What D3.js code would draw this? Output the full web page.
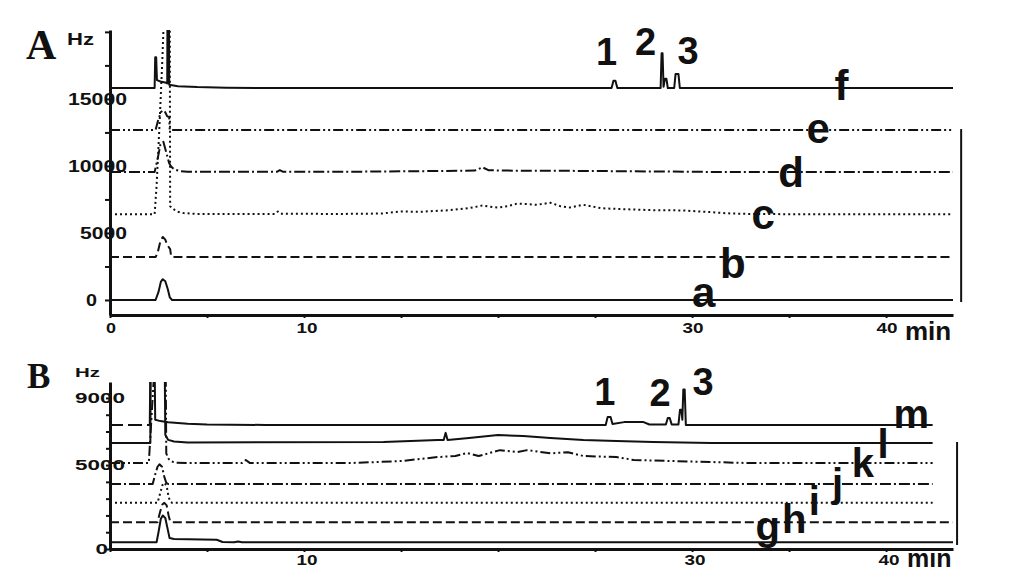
<!DOCTYPE html>
<html lang="en">
<head>
<meta charset="utf-8">
<title>Chromatograms A and B</title>
<script type="text/javascript" src="https://d3js.org/d3.v7.min.js"></script>
<style>
  body { margin: 0; background: #fff; }
  svg { display: block; }
</style>
</head>
<body>
<div id="chart"></div>
<script type="text/javascript">

// ---- panel A traces, [minutes, Hz] ----
var traceA_a = [[0,0],[2.35,0],[2.5,600],[2.62,1350],[2.72,1550],[2.85,1400],[2.98,800],[3.08,200],[3.2,0],[43.45,0]];
var traceA_b = [[0,3200],[2.35,3200],[2.45,3500],[2.6,4400],[2.72,4700],[2.85,4500],[2.95,4100],[3.1,3800],[3.15,3300],[3.25,3200],[43.45,3200]];
var traceA_c = [[0,6400],[2.3,6400],[2.4,8500],[2.55,13000],[2.7,18000],[2.8,22000],[3.08,22000],[3.1,7000],[3.25,6800],[3.45,6600],
  [3.8,6480],[4.5,6420],[8.5,6420],[8.65,6600],[8.8,6430],[12,6420],[14,6450],[15,6600],[16,6580],[17.5,6700],[18.5,6850],
  [19.2,7050],[19.6,6950],[20,6900],[20.5,7000],[21,7200],[21.5,7150],[22,7100],[22.7,7250],[23.2,7000],[23.7,6900],[24.4,7100],
  [25.3,6850],[26,6800],[27,6750],[28,6700],[29.5,6680],[31,6550],[32,6450],[33,6420],[35,6400],[43.45,6400]];
var traceA_d = [[0,9550],[2.3,9550],[2.45,10500],[2.6,11600],[2.75,11800],[2.9,11000],[3.05,10200],[3.15,9950],[3.3,9750],[3.6,9620],
  [4,9560],[8.6,9560],[8.75,9680],[8.9,9570],[12,9560],[15,9600],[17,9620],[18.8,9650],[19.2,9900],[19.5,9680],[21,9640],
  [23,9640],[25,9620],[27,9600],[29,9580],[31,9550],[43.45,9550]];
var traceA_e = [[0,12680],[2.35,12680],[2.48,13400],[2.62,14000],[2.72,14150],[2.85,14000],[2.95,13700],[3.05,13650],[3.08,12680],[43.45,12680]];
var traceA_f = [[0,15815],[2.3,15815],[2.33,18100],[2.38,18100],[2.42,16400],[2.6,16300],[2.9,16200],[2.95,16150],[2.97,25000],
  [3.03,25000],[3.05,16050],[3.5,15950],[4.5,15880],[6,15840],[8,15815],[25.85,15815],[25.95,16350],[26.05,16350],[26.15,15815],
  [28.38,15815],[28.43,18400],[28.48,18400],[28.53,15900],[28.6,16500],[28.68,16500],[28.75,15815],[29.08,15815],[29.15,16850],
  [29.3,16850],[29.37,15815],[43.45,15815]];

// ---- panel B traces, [minutes, Hz] ----
var traceB_g = [[0,400],[2.4,400],[2.5,1000],[2.62,1800],[2.72,2000],[2.85,1850],[2.97,1200],[3.07,650],[3.3,600],[5.5,550],[5.8,420],
  [6.4,400],[6.6,450],[6.8,400],[43.45,400]];
var traceB_h = [[0,1600],[2.45,1600],[2.58,2200],[2.7,2650],[2.8,2750],[2.92,2600],[3.02,2000],[3.1,1650],[3.2,1600],[43.45,1600]];
var traceB_i = [[0,2750],[2.45,2750],[2.58,3300],[2.7,3800],[2.8,3950],[2.92,3750],[3.02,3100],[3.12,2800],[3.2,2750],[42.4,2750]];
var traceB_j = [[0,3870],[2.2,3870],[2.32,4400],[2.45,4900],[2.55,5050],[2.68,4900],[2.8,4300],[2.9,3950],[3.0,3870],[42.4,3870]];
var traceB_k = [[0,5120],[2.0,5120],[2.3,11000],[2.87,11000],[2.9,5700],[3.0,5400],[3.15,5220],[3.4,5140],[4,5120],[6.8,5120],
  [7.0,5300],[7.2,5130],[12.4,5120],[15,5240],[16.9,5480],[17.8,5540],[18.4,5720],[19,5540],[20.1,5890],[21,5770],[21.5,5890],
  [22.7,5700],[23.6,5770],[24.4,5540],[26.1,5480],[27,5300],[29,5240],[31,5180],[33,5120],[42.4,5120]];
var traceB_l = [[0,6320],[2.08,6320],[2.1,11000],[2.82,11000],[2.85,6800],[3.0,6500],[3.3,6400],[4,6340],[14.1,6380],[16.9,6500],
  [17.2,6500],[17.3,6920],[17.4,6500],[18.5,6620],[20,6790],[21.3,6730],[22.7,6620],[24.4,6500],[26.1,6440],[28,6380],[31,6320],[42.4,6320]];
var traceB_m = [[0,7390],[2.05,7390],[2.08,11000],[2.3,11000],[2.33,7700],[2.6,7620],[3,7550],[4,7460],[5,7420],[8,7390],
  [25.55,7390],[25.65,7870],[25.8,7870],[25.9,7450],[26.5,7560],[27.5,7560],[27.8,7420],[28.65,7420],[28.75,7810],[28.85,7810],
  [28.95,7420],[29.3,7420],[29.38,8300],[29.45,8300],[29.5,7700],[29.55,9500],[29.62,9500],[29.68,7390],[42.4,7390]];

// ---- names and tick labels ----
var namesA = ["a","b","c","d","e","f"];
var namesB = ["g","h","i","j","k","l","m"];
var peakNames = ["1","2","3"];
var yTickLabelsA = [0,5000,10000,15000];
var xTickLabelsA = [0,10,30,40];
var yTickLabelsB = [0,5000,9000];
var xTickLabelsB = [10,30,40];

var W = 1033, H = 573;
var font = "'Liberation Sans', Arial, sans-serif";
var dash = { solid: null, dashed: "9,4", dotted: "2,3", dashDot: "11,3,2,3", dashDotDot: "10,3,2,3,2,3" };

var svg = d3.select("#chart").append("svg").attr("width", W).attr("height", H);

var xA = d3.scaleLinear().domain([0, 43.45]).range([110, 953]);
var yA = d3.scaleLinear().domain([-1120, 20140]).range([315, 30]);
var xB = d3.scaleLinear().domain([0, 43.45]).range([110, 953]);
var yB = d3.scaleLinear().domain([0, 9950]).range([549, 382]);

function panel(id, x, y, traces, styles) {
    svg.append("clipPath").attr("id", id)
        .append("rect")
        .attr("x", x(0)).attr("y", y.range()[1])
        .attr("width", W - x(0)).attr("height", y.range()[0] - y.range()[1]);

    var line = d3.line().x(function(d) { return x(d[0]); }).y(function(d) { return y(d[1]); });

    svg.append("g").attr("clip-path", "url(#" + id + ")")
        .selectAll("path").data(traces).enter()
        .append("path")
        .attr("fill", "none")
        .attr("stroke", "#111")
        .attr("stroke-width", 2)
        .attr("stroke-linejoin", "round")
        .attr("stroke-dasharray", function(d, i) { return styles[i]; })
        .attr("d", line);
}

panel("clipA", xA, yA, [traceA_a, traceA_b, traceA_c, traceA_d, traceA_e, traceA_f],
      [dash.solid, dash.dashed, dash.dotted, dash.dashDot, dash.dashDotDot, dash.solid]);
panel("clipB", xB, yB, [traceB_g, traceB_h, traceB_i, traceB_j, traceB_k, traceB_l, traceB_m],
      [dash.solid, dash.dashed, dash.dotted, dash.dashDot, dash.dashDotDot, dash.solid, "13,5,14,5,100000"]);

// axes
function axes(x, y, yStep, tickLen) {
    var gy = svg.append("g")
        .attr("transform", "translate(" + x(0) + ",0)")
        .call(d3.axisLeft(y).tickValues(d3.range(0, y.domain()[1] + 1, yStep))
              .tickSize(tickLen).tickSizeOuter(0).tickFormat(""));
    gy.select(".domain").attr("stroke", "#111").attr("stroke-width", 3);
    gy.selectAll(".tick line").attr("stroke", "#111").attr("stroke-width", 2);

    var gx = svg.append("g")
        .attr("transform", "translate(0," + y.range()[0] + ")")
        .call(d3.axisBottom(x).tickValues(d3.range(0, 44, 5))
              .tickSize(3).tickSizeOuter(0).tickFormat(""));
    gx.select(".domain").attr("stroke", "#111").attr("stroke-width", 3);
    gx.selectAll(".tick line").attr("stroke", "#111").attr("stroke-width", 2);
}
axes(xA, yA, 2500, 5);
axes(xB, yB, 1000, 4);

function txt(s, px, py, size, anchor, opts) {
    var t = svg.append("text")
        .attr("x", px).attr("y", py)
        .attr("text-anchor", anchor)
        .attr("font-family", (opts && opts.family) || font)
        .attr("font-weight", "bold")
        .attr("font-size", size)
        .attr("fill", "#111")
        .text(s);
    if (opts && opts.len) t.attr("textLength", opts.len).attr("lengthAdjust", "spacingAndGlyphs");
    return t;
}

// y tick labels
yTickLabelsA.forEach(function(v) {
    var s = String(v);
    txt(s, xA(0) + (v === 0 ? -13 : 17), yA(v) + 6, 17, "end", { len: 12 * s.length - 1 });
});
yTickLabelsB.forEach(function(v) {
    var s = String(v);
    txt(s, xB(0) + (v === 0 ? -2 : 15), yB(v) + 5, 14, "end", { len: 12.5 * s.length });
});

// x tick labels
xTickLabelsA.forEach(function(v) {
    var s = String(v);
    txt(s, xA(v) + (v === 10 ? 3 : 1), 333, 14, "middle", { len: 11 * s.length - 1 });
});
xTickLabelsB.forEach(function(v) {
    var s = String(v);
    txt(s, xB(v) + 3, 565, 14, "middle", { len: 11 * s.length - 1 });
});

// units
txt("min", 905, 340, 26, "start");
txt("min", 907, 567, 25, "start");
txt("Hz", 67, 45, 16, "start", { len: 27 });
txt("Hz", 75, 377, 13, "start", { len: 25 });

// panel letters
txt("A", 26, 59, 42, "start", { family: "'Liberation Serif', 'Times New Roman', serif" });
txt("B", 27, 388, 35, "start", { family: "'Liberation Serif', 'Times New Roman', serif" });

// trace labels, placed in data units
var spotsA = [[30.6,-520],[32.1,1640],[33.66,5300],[35.1,8430],[36.5,11710],[37.7,14920]];
namesA.forEach(function(n, i) { txt(n, xA(spotsA[i][0]), yA(spotsA[i][1]), 42, "middle"); });
var peakSpotsA = [[25.6,17530],[27.6,18280],[29.8,17600]];
peakNames.forEach(function(n, i) { txt(n, xA(peakSpotsA[i][0]), yA(peakSpotsA[i][1]), 38, "middle"); });

var spotsB = [[33.9,536],[35.26,953],[36.3,2026],[37.5,3098],[38.8,4290],[39.85,5420],[41.3,7210]];
namesB.forEach(function(n, i) { txt(n, xB(spotsB[i][0]), yB(spotsB[i][1]), 40, "middle"); });
var peakSpotsB = [[25.5,8580],[28.35,8520],[30.57,9175]];
peakNames.forEach(function(n, i) { txt(n, xB(peakSpotsB[i][0]), yB(peakSpotsB[i][1]), 38, "middle"); });

// scale bars at the right edge
svg.append("line")
    .attr("x1", xA(43.87)).attr("x2", xA(43.87))
    .attr("y1", yA(12750)).attr("y2", yA(-150))
    .attr("stroke", "#111").attr("stroke-width", 2);
svg.append("line")
    .attr("x1", xB(43.66)).attr("x2", xB(43.66))
    .attr("y1", yB(6375)).attr("y2", yB(240))
    .attr("stroke", "#111").attr("stroke-width", 2);

</script>
</body>
</html>
